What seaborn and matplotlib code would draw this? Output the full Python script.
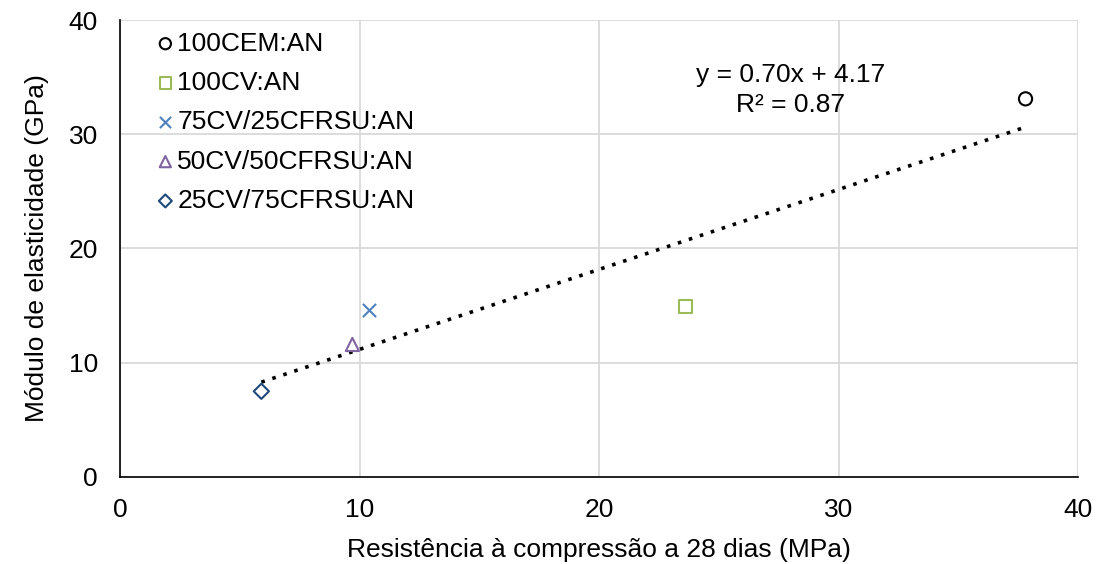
import matplotlib
matplotlib.use("Agg")
import matplotlib.pyplot as plt
import seaborn as sns
import numpy as np
import pandas as pd

series = ["100CEM:AN", "100CV:AN", "75CV/25CFRSU:AN", "50CV/50CFRSU:AN", "25CV/75CFRSU:AN"]
resistencia = [37.8, 23.6, 10.4, 9.7, 5.9]
modulo = [33.1, 14.9, 14.6, 11.6, 7.5]
slope, intercept = 0.70, 4.17
eq_text = "y = 0.70x + 4.17"
r2_text = "R² = 0.87"

colors = ["#000000", "#9BBB59", "#4F81BD", "#8064A2", "#1F497D"]
markers = ["o", "s", "x", "^", "D"]

sns.set_theme(style="white")
plt.rcParams["font.family"] = ["Liberation Sans", "DejaVu Sans"]
plt.rcParams["text.color"] = "black"
plt.rcParams["axes.labelcolor"] = "black"

df = pd.DataFrame({"x": resistencia, "y": modulo, "s": series})

FS = 19

fig = plt.figure(figsize=(10.99, 5.64), dpi=100)
ax = fig.add_axes([0.1092, 0.1543, 0.8719, 0.8102])

ax.grid(True, color="#D9D9D9", linewidth=1.3)
ax.set_axisbelow(True)
for k in ["top", "right"]:
    ax.spines[k].set_visible(False)
for k in ["left", "bottom"]:
    ax.spines[k].set_color("black")
    ax.spines[k].set_linewidth(1.2)
    ax.spines[k].set_zorder(1.5)

# trendline
xs = np.linspace(min(resistencia), max(resistencia), 50)
ax.plot(xs, slope * xs + intercept, linestyle=(0, (1, 2.2)), color="black", linewidth=2.6, zorder=2)

for name, c, m, x, y in zip(series, colors, markers, resistencia, modulo):
    sub = df[df["s"] == name]
    if m == "x":
        sns.scatterplot(data=sub, x="x", y="y", ax=ax, marker=m, color=c, s=90, linewidth=1.5, label=name, zorder=3)
    else:
        ms = 60 if m == "D" else 90
        sns.scatterplot(data=sub, x="x", y="y", ax=ax, marker=m, s=ms, facecolor="none", edgecolor=c, linewidth=1.5, label=name, zorder=3)

ax.set_xlim(0, 40)
ax.set_ylim(0, 40)
ax.set_xticks([0, 10, 20, 30, 40])
ax.set_yticks([0, 10, 20, 30, 40])
ax.tick_params(axis="both", labelsize=FS, colors="black", length=0)
ax.tick_params(axis="y", pad=16)
ax.tick_params(axis="x", pad=15)
ax.set_xlabel("Resistência à compressão a 28 dias (MPa)", fontsize=FS, labelpad=12)
ax.set_ylabel("Módulo de elasticidade (GPa)", fontsize=FS, labelpad=14)

ax.text(28.0, 35.2, eq_text, fontsize=FS, ha="center", va="center")
ax.text(28.0, 32.6, r2_text, fontsize=FS, ha="center", va="center")

leg = ax.legend(loc="upper left", bbox_to_anchor=(0.006, 1.015), frameon=False, fontsize=FS,
                handletextpad=-0.35, labelspacing=0.58, markerscale=0.85, borderaxespad=0.3,
                handlelength=1.6)

fig.savefig("out.png", dpi=100)
